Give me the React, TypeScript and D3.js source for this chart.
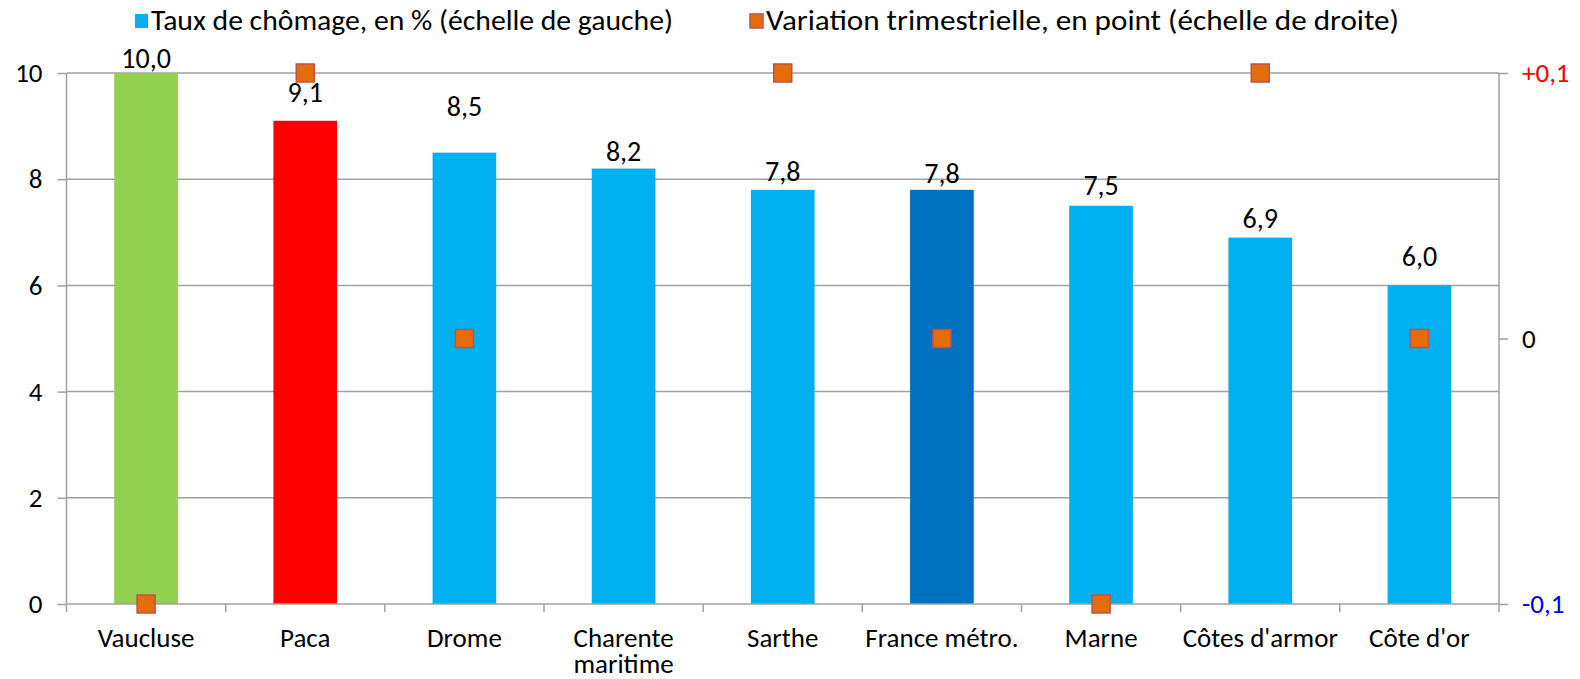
import { useEffect, useRef } from 'react';
import * as d3 from 'd3';

const categories = [
  'Vaucluse',
  'Paca',
  'Drome',
  'Charente maritime',
  'Sarthe',
  'France métro.',
  'Marne',
  "Côtes d'armor",
  "Côte d'or",
];
const rates = [10.0, 9.1, 8.5, 8.2, 7.8, 7.8, 7.5, 6.9, 6.0];
const variations: (number | null)[] = [-0.1, 0.1, 0, null, 0.1, 0, -0.1, 0.1, 0];
const barColors = ['#92D050', '#FF0000', '#00B0F0', '#00B0F0', '#00B0F0', '#0070C0', '#00B0F0', '#00B0F0', '#00B0F0'];
const leftTicks = [0, 2, 4, 6, 8, 10];
const rightTicks = [-0.1, 0, 0.1];
const rightTickLabels = ['-0,1', '0', '+0,1'];
const rightTickColors = ['#0000FF', '#000000', '#FF0000'];
const legendLabels = [
  'Taux de chômage, en % (échelle de gauche)',
  'Variation trimestrielle, en point (échelle de droite)',
];

// how far each value label sits above its bar (Excel placed them unevenly)
const labelLift = [5, 19, 37, 8, 9, 7, 11, 10, 19];

const WIDTH = 1580;
const HEIGHT = 679;
const FONT = "Calibri, Carlito, 'Liberation Sans Narrow', 'Open Sans', sans-serif";

export default function App() {
  const svgRef = useRef<SVGSVGElement>(null);

  useEffect(() => {
    if (!svgRef.current) return;
    const svg = d3.select(svgRef.current);
    svg.selectAll('*').remove();

    const margin = { top: 73, right: 81, bottom: 75, left: 66.5 };
    const x0 = margin.left;
    const x1 = WIDTH - margin.right;
    const y0 = HEIGHT - margin.bottom;
    const y1 = margin.top;

    const x = d3.scaleBand().domain(categories).range([x0, x1]).paddingInner(0.6).paddingOuter(0.3);
    const xOuter = d3.scaleBand().domain(categories).range([x0, x1]);
    const yL = d3.scaleLinear().domain([0, 10]).range([y0, y1]);
    const yR = d3.scaleLinear().domain([-0.1, 0.1]).range([y0, y1]);

    const grey = '#A0A0A0';

    // gridlines
    svg.append('g')
      .selectAll('line')
      .data(leftTicks.filter((t) => t > 0))
      .join('line')
      .attr('x1', x0)
      .attr('x2', x1)
      .attr('y1', (d) => yL(d))
      .attr('y2', (d) => yL(d))
      .attr('stroke', grey)
      .attr('stroke-width', 1.5);

    // bars
    const data = categories.map((c, i) => ({ name: c, rate: rates[i], v: variations[i], color: barColors[i], lift: labelLift[i] }));
    svg.append('g')
      .selectAll('rect')
      .data(data)
      .join('rect')
      .attr('x', (d) => x(d.name) || 0)
      .attr('width', x.bandwidth())
      .attr('y', (d) => yL(d.rate))
      .attr('height', (d) => y0 - yL(d.rate))
      .attr('fill', (d) => d.color);

    // left axis
    const axL = svg.append('g').attr('transform', `translate(${x0},0)`)
      .call(d3.axisLeft(yL).tickValues(leftTicks).tickSize(9).tickPadding(15).tickFormat((d) => String(d)));
    axL.selectAll('text').attr('font-family', FONT).attr('font-size', 27).attr('fill', '#000');

    // right axis
    const axR = svg.append('g').attr('transform', `translate(${x1},0)`)
      .call(d3.axisRight(yR).tickValues(rightTicks).tickSize(9).tickPadding(14)
        .tickFormat((_, i) => rightTickLabels[i]));
    axR.selectAll('text')
      .attr('font-family', FONT)
      .attr('font-size', 27)
      .attr('fill', (_, i) => rightTickColors[i]);

    [axL, axR].forEach((a) => {
      a.selectAll('path, line').attr('stroke', grey).attr('stroke-width', 1.5);
      a.select('.domain').attr('d', `M0,${y0}V${y1}`);
    });

    // bottom axis with ticks between categories
    const bottom = svg.append('g');
    bottom.append('line').attr('x1', x0).attr('x2', x1).attr('y1', y0).attr('y2', y0).attr('stroke', grey).attr('stroke-width', 1.5);
    bottom.selectAll('line.tick')
      .data(d3.range(categories.length + 1))
      .join('line')
      .attr('class', 'tick')
      .attr('x1', (i) => x0 + i * xOuter.step())
      .attr('x2', (i) => x0 + i * xOuter.step())
      .attr('y1', y0)
      .attr('y2', y0 + 8)
      .attr('stroke', grey)
      .attr('stroke-width', 1.5);

    // category labels
    const catG = svg.append('g')
      .attr('font-family', FONT)
      .attr('font-size', 27)
      .attr('text-anchor', 'middle')
      .attr('fill', '#000');
    data.forEach((d) => {
      const cx = (xOuter(d.name) || 0) + xOuter.bandwidth() / 2;
      const lines = d.name === 'Charente maritime' ? ['Charente', 'maritime'] : [d.name];
      lines.forEach((l, j) => {
        catG.append('text').attr('x', cx).attr('y', y0 + 43 + j * 26).text(l);
      });
    });

    // value labels
    const fmt = (v: number) => v.toFixed(1).replace('.', ',');
    svg.append('g')
      .selectAll('text')
      .data(data)
      .join('text')
      .attr('x', (d) => (x(d.name) || 0) + x.bandwidth() / 2)
      .attr('y', (d) => yL(d.rate) - d.lift)
      .attr('text-anchor', 'middle')
      .attr('font-family', FONT)
      .attr('font-size', 28)
      .attr('fill', '#000')
      .text((d) => fmt(d.rate));

    // markers
    const ms = 18;
    svg.append('g')
      .selectAll('rect')
      .data(data.filter((d) => d.v !== null))
      .join('rect')
      .attr('x', (d) => (xOuter(d.name) || 0) + xOuter.bandwidth() / 2 - ms / 2)
      .attr('y', (d) => yR(d.v as number) - ms / 2)
      .attr('width', ms)
      .attr('height', ms)
      .attr('fill', '#E46C0A')
      .attr('stroke', '#C0504D')
      .attr('stroke-width', 1.5);

    // legend
    const legend = svg.append('g').attr('font-family', FONT).attr('font-size', 28).attr('fill', '#000');
    const items = [
      { x: 135, w: 522, label: legendLabels[0], fill: '#00B0F0', stroke: 'none' },
      { x: 750, w: 633, label: legendLabels[1], fill: '#E46C0A', stroke: '#C0504D' },
    ];
    items.forEach((it) => {
      legend.append('rect').attr('x', it.x).attr('y', 14).attr('width', 13).attr('height', 14)
        .attr('fill', it.fill).attr('stroke', it.stroke).attr('stroke-width', 1.5);
      legend.append('text')
        .attr('x', it.x + 16)
        .attr('y', 30)
        .attr('textLength', it.w)
        .attr('lengthAdjust', 'spacingAndGlyphs')
        .text(it.label);
    });
  }, []);

  return (
    <svg ref={svgRef} width={WIDTH} height={HEIGHT} style={{ display: 'block', position: 'absolute', left: 0, top: 0, background: '#fff' }} />
  );
}
